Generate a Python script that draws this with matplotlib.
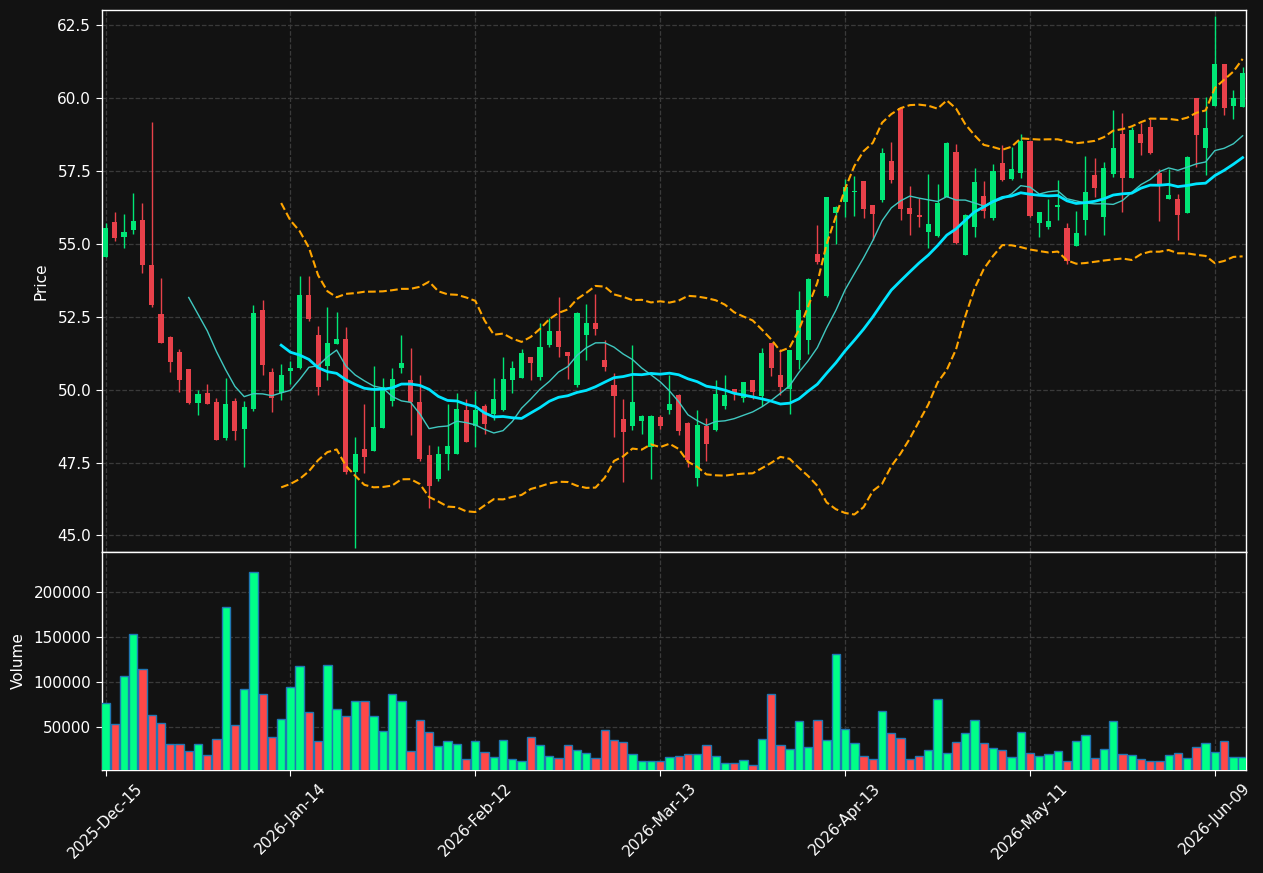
import numpy as np
import pandas as pd
import matplotlib
matplotlib.use("Agg")
import matplotlib.pyplot as plt
from matplotlib.ticker import FixedLocator, FuncFormatter

# ---------------- data ----------------
opens = [54.57, 55.77, 55.25, 55.49, 55.83, 54.29, 52.60, 51.82, 51.30, 50.71,
         49.55, 49.89, 49.59, 48.35, 49.62, 48.65, 49.35, 52.74, 50.61, 49.90,
         50.64, 50.73, 53.26, 51.88, 50.83, 51.58, 51.75, 47.17, 47.96, 47.91,
         48.70, 49.62, 50.73, 50.34, 49.59, 47.76, 46.93, 47.80, 47.80, 49.31,
         48.77, 49.45, 49.17, 49.29, 50.32, 50.41, 51.12, 50.45, 51.55, 52.02,
         51.29, 50.16, 51.88, 52.30, 51.03, 50.16, 49.00, 48.77, 48.91, 48.03,
         49.07, 49.29, 49.83, 48.87, 46.98, 48.76, 48.60, 49.43, 50.02, 49.70,
         50.34, 49.78, 51.60, 50.52, 50.04, 51.01, 51.69, 54.66, 53.20, 56.08,
         56.43, 56.78, 57.15, 56.34, 56.50, 57.86, 59.66, 56.25, 56.01, 55.40,
         55.26, 56.63, 58.17, 54.64, 55.59, 56.66, 55.88, 57.79, 57.22, 57.45,
         58.52, 55.71, 55.60, 56.27, 55.56, 54.94, 55.83, 57.38, 55.91, 57.39,
         58.78, 57.26, 58.76, 59.03, 57.45, 56.56, 56.55, 56.08, 60.01, 58.30,
         59.74, 61.17, 59.74, 59.70]
highs = [55.71, 56.09, 56.03, 56.75, 56.40, 59.20, 53.84, 51.84, 51.39, 50.72,
         50.00, 50.20, 49.71, 50.39, 49.71, 49.61, 52.90, 53.07, 50.75, 50.87,
         50.97, 53.90, 53.90, 52.18, 52.83, 52.66, 52.14, 48.36, 49.51, 50.81,
         50.39, 50.74, 51.88, 51.43, 50.52, 48.11, 48.08, 49.51, 49.89, 49.67,
         49.95, 49.51, 50.39, 51.12, 50.99, 51.39, 51.13, 52.30, 52.45, 53.18,
         51.30, 52.67, 52.94, 53.28, 51.71, 50.56, 49.67, 51.53, 49.12, 49.12,
         49.13, 50.49, 49.84, 48.88, 49.29, 49.02, 50.35, 50.50, 50.03, 50.28,
         50.35, 51.43, 51.61, 51.41, 51.37, 53.39, 53.82, 55.65, 56.63, 56.29,
         57.23, 57.35, 57.16, 56.35, 58.28, 58.51, 59.70, 57.00, 56.57, 57.40,
         57.06, 58.49, 58.43, 56.02, 57.60, 57.16, 57.75, 58.41, 58.34, 58.77,
         58.53, 56.10, 56.54, 57.20, 55.71, 56.13, 58.03, 57.95, 57.81, 59.61,
         59.49, 59.02, 59.17, 59.30, 57.57, 57.56, 56.70, 58.01, 60.02, 60.05,
         62.82, 61.18, 60.29, 61.08]
lows = [54.55, 55.10, 54.88, 55.36, 53.99, 52.85, 51.60, 50.61, 49.93, 49.52,
        49.13, 49.50, 48.26, 48.26, 48.26, 47.34, 49.27, 50.49, 49.22, 49.65,
        50.20, 50.70, 52.35, 49.83, 50.32, 51.57, 47.09, 44.57, 47.13, 47.90,
        48.69, 49.45, 50.59, 48.43, 47.55, 45.95, 46.88, 47.25, 47.79, 48.20,
        48.02, 48.48, 48.96, 49.28, 49.89, 50.40, 50.35, 50.32, 51.47, 51.13,
        50.38, 50.09, 51.01, 51.89, 50.63, 48.38, 46.82, 48.63, 48.48, 46.95,
        48.65, 49.17, 48.45, 47.35, 46.70, 47.55, 48.59, 49.35, 49.63, 49.58,
        49.67, 49.44, 50.46, 49.83, 49.17, 50.71, 51.21, 54.30, 53.19, 54.99,
        55.92, 55.95, 55.88, 55.13, 56.45, 57.11, 55.84, 55.30, 55.58, 54.88,
        55.25, 56.62, 55.01, 54.63, 55.23, 55.90, 55.82, 57.15, 57.21, 57.27,
        55.94, 55.24, 55.52, 55.83, 54.32, 54.93, 55.30, 56.60, 55.32, 57.29,
        56.09, 57.25, 58.05, 58.10, 55.79, 56.55, 55.13, 56.07, 57.65, 57.37,
        59.73, 59.44, 59.29, 59.69]
closes = [55.56, 55.22, 55.42, 55.80, 54.29, 52.91, 51.61, 50.95, 50.35, 49.53,
          49.86, 49.52, 48.28, 49.52, 48.59, 49.41, 52.64, 50.86, 49.72, 50.51,
          50.75, 53.26, 52.43, 50.08, 51.60, 51.75, 47.17, 47.80, 47.69, 48.72,
          50.08, 50.37, 50.91, 49.57, 47.63, 46.70, 47.80, 48.08, 49.35, 48.21,
          49.31, 48.81, 49.69, 50.37, 50.75, 51.27, 50.93, 51.47, 52.02, 51.45,
          51.17, 52.64, 52.30, 52.07, 50.79, 49.77, 48.56, 49.59, 49.11, 49.11,
          48.77, 49.52, 48.59, 47.59, 48.79, 48.15, 49.86, 49.83, 49.85, 50.27,
          49.92, 51.27, 50.76, 50.08, 51.36, 52.74, 53.81, 54.39, 56.62, 56.28,
          56.97, 56.81, 56.21, 56.02, 58.13, 57.18, 56.21, 56.02, 55.91, 55.70,
          56.42, 58.48, 55.02, 56.01, 57.14, 56.12, 57.52, 57.21, 57.58, 58.52,
          55.95, 56.09, 55.80, 56.34, 54.41, 55.38, 56.80, 56.91, 57.62, 58.30,
          57.26, 58.90, 58.46, 58.11, 57.07, 56.68, 55.98, 58.00, 58.74, 58.97,
          61.17, 59.67, 60.00, 60.87]
volumes = [76900, 53400, 107100, 153000, 114900, 63400, 54500, 31000, 31000, 23100,
           31000, 18700, 36600, 183200, 52200, 92500, 222400, 86900, 38800, 58900,
           94800, 118300, 66800, 34300, 119400, 70100, 62300, 79100, 79100, 62300,
           45500, 86900, 79100, 23100, 57800, 44400, 28700, 34300, 31000, 14200,
           34300, 22000, 16400, 35400, 14200, 11900, 38800, 29800, 17500, 15300,
           29800, 24300, 20900, 15300, 46600, 35400, 33200, 19800, 11900, 11900,
           11900, 16400, 17500, 19800, 19800, 29800, 17500, 9700, 9700, 13100,
           7500, 36600, 86900, 29800, 25400, 56700, 27600, 57800, 35400, 131700,
           47800, 32100, 17500, 14200, 67900, 43300, 37700, 14200, 17500, 24300,
           81300, 20900, 33200, 43300, 57800, 32100, 26500, 24300, 16400, 44400,
           20900, 17500, 19800, 23100, 11900, 34300, 41000, 15300, 25400, 56700,
           19800, 18700, 14200, 11900, 11900, 18700, 20900, 15300, 27600, 32100,
           22000, 34300, 16400, 16400]
tick_labels = ["2025-Dec-15", "2026-Jan-14", "2026-Feb-12", "2026-Mar-13",
               "2026-Apr-13", "2026-May-11", "2026-Jun-09"]
tick_step = 20
mav_short, mav_long, bb_k = 10, 20, 2

# ---------------- styling ----------------
BG = "#121212"
UP_C, DN_C = "#00e676", "#e8414a"
VUP_C, VDN_C = "#00ff88", "#ff4848"
GRID_C = "#3a3a3a"
FS = 11

plt.rcParams["font.family"] = ["DejaVu Sans"]
fig = plt.figure(figsize=(12.63, 8.73), dpi=100, facecolor=BG)
ax = fig.add_axes([0.0804, 0.3677, 0.9061, 0.6208], facecolor=BG)
axv = fig.add_axes([0.0804, 0.1180, 0.9061, 0.2497], facecolor=BG, sharex=ax)

o = np.array(opens); h = np.array(highs); l = np.array(lows); c = np.array(closes)
v = np.array(volumes)
x = np.arange(len(c))
up = c >= o

# candles
ax.vlines(x[up], l[up], h[up], color=UP_C, linewidth=1.0, zorder=2)
ax.vlines(x[~up], l[~up], h[~up], color=DN_C, linewidth=1.0, zorder=2)
body = np.maximum(np.abs(c - o), 0.03)
ax.bar(x[up], body[up], bottom=o[up], width=0.55, color=UP_C, zorder=3, linewidth=0)
ax.bar(x[~up], body[~up], bottom=c[~up], width=0.55, color=DN_C, zorder=3, linewidth=0)

# moving averages and bollinger bands
cs = pd.Series(c)
ma_s = cs.rolling(mav_short).mean()
ma_l = cs.rolling(mav_long).mean()
sd = cs.rolling(mav_long).std(ddof=0)
ax.plot(x, ma_s, color="#40c8c0", linewidth=1.0, zorder=4)
ax.plot(x, ma_l, color="#00e5ff", linewidth=2.0, zorder=4)
ax.plot(x, ma_l + bb_k * sd, color="#ffa500", linewidth=1.5, linestyle="--", zorder=4)
ax.plot(x, ma_l - bb_k * sd, color="#ffa500", linewidth=1.5, linestyle="--", zorder=4)

# volume
axv.bar(x, v, width=0.9, color=np.where(up, VUP_C, VDN_C), edgecolor="#1f77b4",
        linewidth=1.0, zorder=3)

ax.set_xlim(-0.43, len(c) - 1 + 0.36)
ax.set_ylim(44.43, 63.03)
axv.set_ylim(0.3 * v.min(), 1.1 * v.max())

ax.yaxis.set_major_locator(FixedLocator(np.arange(45, 63, 2.5)))
ax.yaxis.set_major_formatter(FuncFormatter(lambda val, p: f"{val:.1f}"))
axv.yaxis.set_major_locator(FixedLocator([50000, 100000, 150000, 200000]))
axv.yaxis.set_major_formatter(FuncFormatter(lambda val, p: f"{int(val)}"))

ticks = np.arange(len(tick_labels)) * tick_step
axv.set_xticks(ticks)
axv.set_xticklabels(tick_labels, rotation=45, ha="center")
plt.setp(ax.get_xticklabels(), visible=False)

for a in (ax, axv):
    a.grid(True, color=GRID_C, linestyle="--", linewidth=0.9)
    a.set_axisbelow(True)
    for s in a.spines.values():
        s.set_color("white")
        s.set_linewidth(1.0)
    a.tick_params(colors="white", labelsize=FS, length=4)

ax.tick_params(axis="x", length=0)
ax.set_ylabel("Price", color="white", fontsize=FS)
axv.set_ylabel("Volume", color="white", fontsize=FS)
ax.yaxis.set_label_coords(-0.046, 0.5)
axv.yaxis.set_label_coords(-0.066, 0.5)

fig.savefig("out.png", dpi=100, facecolor=BG)
